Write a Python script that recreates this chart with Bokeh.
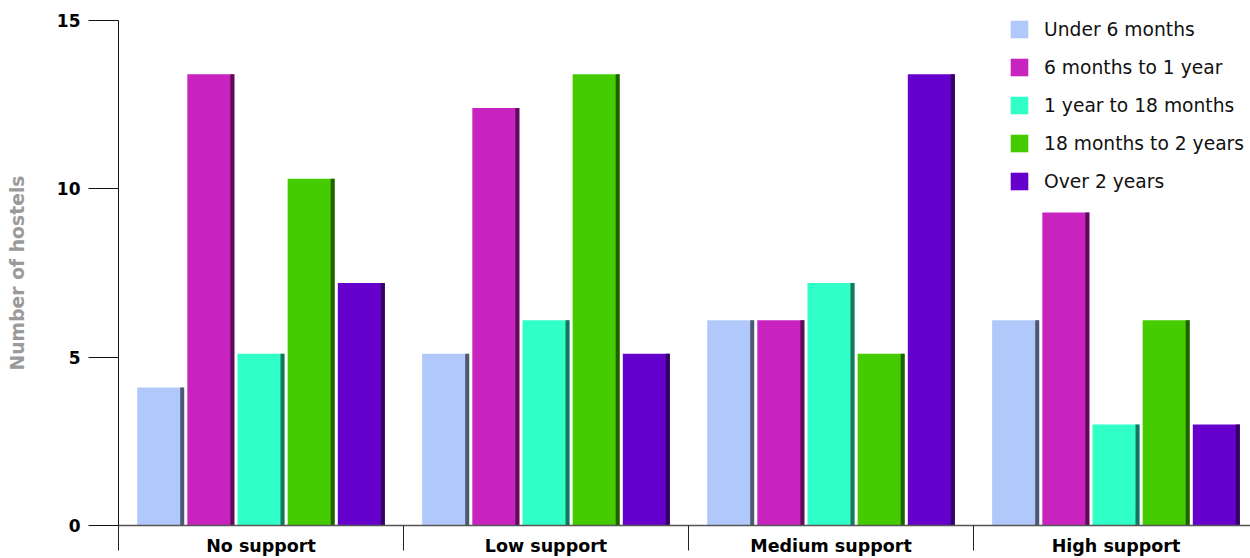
from bokeh.plotting import figure
from bokeh.models import ColumnDataSource, FixedTicker, Range1d, Legend, LegendItem
from bokeh.transform import dodge
from bokeh.embed import file_html
from bokeh.resources import INLINE

# Hostels by length of stay, grouped by level of support
groups = ["No support", "Low support", "Medium support", "High support"]
durations = ["Under 6 months", "6 months to 1 year", "1 year to 18 months",
             "18 months to 2 years", "Over 2 years"]
under_6_months = [4.1, 5.1, 6.1, 6.1]
six_months_to_1_year = [13.4, 12.4, 6.1, 9.3]
one_year_to_18_months = [5.1, 6.1, 7.2, 3.0]
eighteen_months_to_2_years = [10.3, 13.4, 5.1, 6.1]
over_2_years = [7.2, 5.1, 13.4, 3.0]
y_ticks = [0, 5, 10, 15]

series = [under_6_months, six_months_to_1_year, one_year_to_18_months,
          eighteen_months_to_2_years, over_2_years]
colors = ["#b0c8fa", "#c822bf", "#30ffc8", "#44cc00", "#6600cc"]
edge_colors = ["#3c4458", "#4a0845", "#155c48", "#1a4c00", "#28004e"]

keys = ["s0", "s1", "s2", "s3", "s4"]
data = {"x": list(range(len(groups)))}
for k, vals in zip(keys, series):
    data[k] = vals
source = ColumnDataSource(data)

FONT = "DejaVu Sans"
group_px = 285
frame_w = 1250 - 118

p = figure(width=1250, height=558,
           x_range=Range1d(-0.5, -0.5 + frame_w / group_px),
           y_range=Range1d(0, 15),
           output_backend="svg", toolbar_location=None,
           min_border_left=118, min_border_right=0,
           min_border_top=20, min_border_bottom=32)
p.outline_line_color = None
p.xgrid.visible = False
p.ygrid.visible = False
p.background_fill_color = "white"
p.border_fill_color = "white"

bar_w = 0.165
pitch = 0.176
edge_w = 0.014

items = []
for i, (k, c, ec, name) in enumerate(zip(keys, colors, edge_colors, durations)):
    off = (i - 2) * pitch
    r = p.vbar(x=dodge("x", off, range=p.x_range), top=k, bottom=0, width=bar_w,
               source=source, fill_color=c, line_color=None)
    p.vbar(x=dodge("x", off + bar_w / 2 - edge_w / 2, range=p.x_range), top=k, bottom=0,
           width=edge_w, source=source, fill_color=ec, line_color=None, fill_alpha=0.85)
    items.append(LegendItem(label=name, renderers=[r]))

# x axis: group names at centres, separators between groups
xa = p.xaxis[0]
xa.ticker = FixedTicker(ticks=list(range(len(groups))),
                        minor_ticks=[g - 0.5 for g in range(len(groups))])
xa.major_label_overrides = {i: g for i, g in enumerate(groups)}
xa.major_tick_line_color = None
xa.major_tick_out = 0
xa.major_tick_in = 0
xa.minor_tick_out = 25
xa.minor_tick_in = 0
xa.minor_tick_line_color = "#222222"
xa.axis_line_color = "#555555"
xa.axis_line_width = 1.5
xa.major_label_text_font = FONT
xa.major_label_text_font_style = "bold"
xa.major_label_text_font_size = "17.5px"
xa.major_label_text_color = "black"
xa.major_label_standoff = -15

ya = p.yaxis[0]
ya.ticker = FixedTicker(ticks=y_ticks)
ya.major_tick_out = 30
ya.major_tick_in = 0
ya.minor_tick_line_color = None
ya.major_tick_line_color = "#111111"
ya.axis_line_color = "#111111"
ya.major_label_text_font = FONT
ya.major_label_text_font_style = "bold"
ya.major_label_text_font_size = "17px"
ya.major_label_text_color = "black"
ya.major_label_standoff = 8
ya.axis_label = "Number of hostels"
ya.axis_label_text_font = FONT
ya.axis_label_text_font_style = "bold"
ya.axis_label_text_font_size = "18.8px"
ya.axis_label_text_color = "#9a9a9a"
ya.axis_label_standoff = 26

legend = Legend(items=items, location=(1008 - 118, 333),
                glyph_width=22, glyph_height=22, spacing=16,
                label_standoff=14, padding=0, margin=0,
                label_text_font=FONT, label_text_font_size="18.7px",
                label_text_color="#111111",
                border_line_color=None, background_fill_alpha=0)
p.add_layout(legend)

open("out.html", "w").write(file_html(p, INLINE))
